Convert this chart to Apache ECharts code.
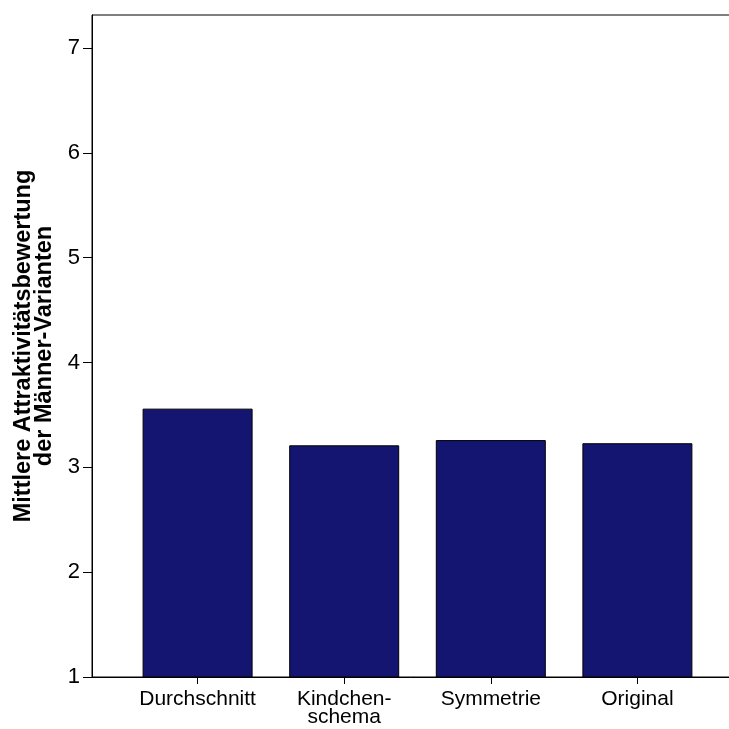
<!DOCTYPE html>
<html>
<head>
<meta charset="utf-8">
<script src="https://cdn.jsdelivr.net/npm/echarts@6/dist/echarts.min.js"></script>
<style>
  html, body { margin: 0; padding: 0; background: #fff; }
  #chart { width: 729px; height: 729px; }
</style>
</head>
<body>
<div id="chart"></div>
<script>
// Mean attractiveness rating per male face variant
const categories = ['Durchschnitt', 'Kindchen-\nschema', 'Symmetrie', 'Original'];
const meanRatings = [3.56, 3.21, 3.26, 3.23];
const yTicks = { min: 1, max: 7.315, step: 1 };
const yTitle = 'Mittlere Attraktivitätsbewertung\nder Männer-Varianten';

const FONT = '"Liberation Sans", Arial, sans-serif';

const chart = echarts.init(document.getElementById('chart'), null, { renderer: 'canvas' });

chart.setOption({
  animation: false,
  backgroundColor: '#ffffff',
  grid: [
    // outer frame: left axis, top line, bottom axis (runs off the right edge)
    { left: 92, right: -10, top: 15, bottom: 52, outerBoundsMode: 'none', containLabel: false,
      show: true, borderColor: '#000', borderWidth: 1, backgroundColor: 'transparent' },
    // inner band carrying the categories and bars
    { left: 124.3, right: 18.3, top: 15, bottom: 52, outerBoundsMode: 'none', containLabel: false }
  ],
  xAxis: [
    {
      gridIndex: 0, type: 'value', min: 0, max: 1,
      axisLine: { show: true, lineStyle: { color: '#000', width: 1 } },
      axisTick: { show: false }, axisLabel: { show: false }, splitLine: { show: false }
    },
    {
      gridIndex: 1, type: 'category', data: categories, boundaryGap: true,
      axisLine: { show: false },
      axisTick: { show: true, alignWithLabel: true, length: 7, lineStyle: { color: '#000', width: 1 } },
      axisLabel: { color: '#000', fontFamily: FONT, fontSize: 21, lineHeight: 18, margin: 13, interval: 0 },
      splitLine: { show: false }
    }
  ],
  yAxis: [
    {
      gridIndex: 0, type: 'value', min: yTicks.min, max: yTicks.max, interval: yTicks.step,
      name: yTitle, nameLocation: 'middle', nameRotate: 90, nameGap: 34,
      nameTextStyle: { color: '#000', fontFamily: FONT, fontSize: 23.5, fontWeight: 'bold', lineHeight: 21, align: 'center' },
      axisLine: { show: true, lineStyle: { color: '#000', width: 1 } },
      axisTick: { show: true, inside: false, length: 9, lineStyle: { color: '#000', width: 1 } },
      axisLabel: { color: '#000', fontFamily: FONT, fontSize: 22, margin: 12, showMaxLabel: false },
      splitLine: { show: false }
    },
    {
      gridIndex: 1, type: 'value', min: yTicks.min, max: yTicks.max, interval: yTicks.step,
      show: false, splitLine: { show: false }
    }
  ],
  series: [
    {
      type: 'bar', xAxisIndex: 1, yAxisIndex: 1,
      data: meanRatings,
      barWidth: 110,
      itemStyle: { color: '#131570', borderColor: '#000', borderWidth: 1 }
    }
  ]
});
</script>
</body>
</html>
